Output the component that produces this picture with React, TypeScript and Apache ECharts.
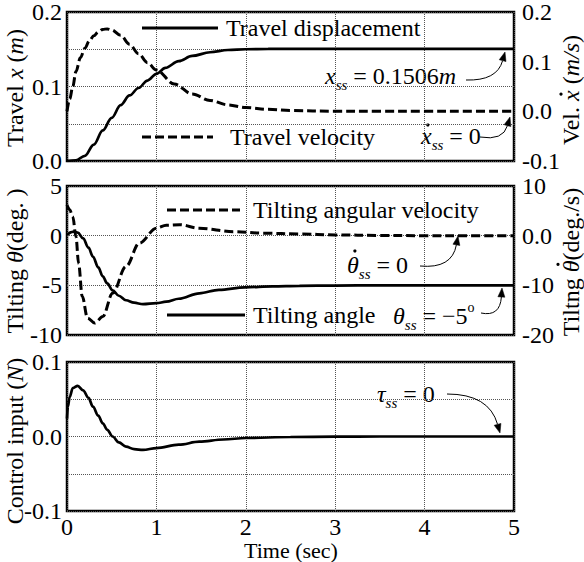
import React, { useEffect, useRef } from "react";
import * as echarts from "echarts";

// ---------- data ----------
const xTicks = [0, 1, 2, 3, 4, 5];

const dispTime = [0, 0.1, 0.2, 0.3, 0.4, 0.5, 0.6, 0.7, 0.8, 0.9, 1.0, 1.1, 1.25, 1.4, 1.6, 1.8, 2.0, 2.25, 2.5, 3, 3.5, 4, 4.5, 5];
const dispValue = [0, 0.001, 0.007, 0.022, 0.041, 0.058, 0.075, 0.088, 0.098, 0.108, 0.117, 0.125, 0.134, 0.141, 0.146, 0.149, 0.150, 0.1504, 0.1506, 0.1506, 0.1506, 0.1506, 0.1506, 0.1506];

const velTime = [0, 0.03, 0.065, 0.1, 0.15, 0.2, 0.25, 0.3, 0.35, 0.4, 0.45, 0.5, 0.6, 0.7, 0.8, 0.9, 1.0, 1.2, 1.4, 1.6, 1.8, 2.0, 2.25, 2.5, 3, 3.5, 4, 4.5, 5];
const velValue = [0, 0.025, 0.05, 0.08, 0.108, 0.127, 0.142, 0.152, 0.16, 0.165, 0.166, 0.164, 0.153, 0.135, 0.116, 0.098, 0.083, 0.055, 0.035, 0.022, 0.013, 0.0075, 0.004, 0.0015, 0.0003, 0, 0, 0, 0];

const thetaTime = [0, 0.05, 0.085, 0.12, 0.18, 0.24, 0.29, 0.35, 0.4, 0.45, 0.51, 0.58, 0.66, 0.75, 0.85, 1.0, 1.11, 1.25, 1.48, 1.7, 1.99, 2.3, 2.6, 3, 3.5, 4, 4.5, 5];
const thetaValue = [0.05, 0.35, 0.42, 0.3, -0.27, -1.2, -2.1, -3.2, -4.1, -4.8, -5.5, -6.05, -6.5, -6.75, -6.9, -6.8, -6.65, -6.35, -5.8, -5.45, -5.2, -5.1, -5.05, -5.02, -5.0, -5.0, -5.0, -5.0];

const omegaTime = [0, 0.03, 0.065, 0.1, 0.13, 0.17, 0.23, 0.31, 0.4, 0.51, 0.66, 0.81, 1.0, 1.11, 1.26, 1.48, 1.86, 2.2, 2.6, 3.0, 3.5, 4, 4.5, 5];
const omegaValue = [6.2, 5.2, 3.8, -0.2, -5.6, -12.2, -16.6, -17.6, -16.3, -11.6, -6.2, -1.5, 1.5, 2.1, 2.2, 1.5, 0.8, 0.5, 0.34, 0.15, 0.05, 0, 0, 0];

const ctrlTime = [0, 0.01, 0.03, 0.065, 0.12, 0.18, 0.24, 0.29, 0.35, 0.4, 0.45, 0.51, 0.58, 0.66, 0.75, 0.85, 1.0, 1.25, 1.48, 1.75, 2.0, 2.5, 3, 3.5, 4, 4.5, 5];
const ctrlValue = [0.024, 0.04, 0.053, 0.065, 0.068, 0.062, 0.052, 0.04, 0.028, 0.0177, 0.009, 0, -0.008, -0.0136, -0.017, -0.018, -0.0155, -0.011, -0.007, -0.004, -0.002, -0.0007, -0.0002, 0, 0, 0, 0];

const travelLeftTicks = [0.0, 0.1, 0.2];
const travelRightTicks = [-0.1, 0.0, 0.1, 0.2];
const tiltLeftTicks = [-10, -5, 0, 5];
const tiltRightTicks = [-20, -10, 0, 10];
const ctrlTicks = [-0.1, 0.0, 0.1];

// ---------- helpers ----------
const FONT = "Liberation Serif";
const FS = 24;
const pairs = (t: number[], v: number[]) => t.map((x, i) => [x, v[i]]);
const near = (v: number, arr: number[]) => arr.some((a) => Math.abs(a - v) < 1e-6);

type Part = { t?: string; size?: number; italic?: boolean; dy?: number; dx?: number; dot?: boolean };

let measureCtx: CanvasRenderingContext2D | null = null;
function measure(s: string, size: number, italic: boolean) {
  if (!measureCtx) measureCtx = document.createElement("canvas").getContext("2d");
  if (!measureCtx) return s.length * size * 0.5;
  measureCtx.font = `${italic ? "italic " : ""}${size}px "${FONT}"`;
  return measureCtx.measureText(s).width;
}

function compose(parts: Part[], x: number, y: number, center: boolean, rotate: boolean, baseSize = FS) {
  const items: any[] = [];
  let cur = 0;
  let prevStart = 0;
  let prevW = 0;
  for (const p of parts) {
    const size = p.size || baseSize;
    if (p.dot) {
      items.push({
        type: "circle",
        kx: prevStart + prevW / 2 + (p.dx || 0),
        shape: { cx: 0, cy: p.dy || 0, r: 1.6 },
        style: { fill: "#000" },
      });
      continue;
    }
    const t = p.t || "";
    const w = measure(t, size, !!p.italic);
    items.push({
      type: "text",
      kx: cur + (p.dx || 0),
      y: p.dy || 0,
      style: {
        text: t,
        fill: "#000",
        fontSize: size,
        fontFamily: FONT,
        fontStyle: p.italic ? "italic" : "normal",
        textAlign: "left",
        align: "left",
        textVerticalAlign: "middle",
        verticalAlign: "middle",
      },
    });
    prevStart = cur + (p.dx || 0);
    prevW = w;
    cur += w + (p.dx || 0);
  }
  const off = center ? -cur / 2 : 0;
  const children = items.map((it) => {
    const { kx, ...rest } = it;
    if (rest.type === "circle") {
      return { ...rest, shape: { ...rest.shape, cx: kx + off } };
    }
    return { ...rest, x: kx + off };
  });
  return { type: "group", x, y, rotation: rotate ? Math.PI / 2 : 0, z: 10, children };
}

function txt(x: number, y: number, s: string, size = FS, align = "left") {
  return {
    type: "text",
    x,
    y,
    z: 10,
    style: {
      text: s,
      fill: "#000",
      fontSize: size,
      fontFamily: FONT,
      textAlign: align,
      align,
      textVerticalAlign: "middle",
      verticalAlign: "middle",
    },
  };
}

function arrow(x1: number, y1: number, cx: number, cy: number, x2: number, y2: number) {
  const dx = x2 - cx;
  const dy = y2 - cy;
  const len = Math.sqrt(dx * dx + dy * dy) || 1;
  const ux = dx / len;
  const uy = dy / len;
  const L = 9;
  const W = 3.5;
  const bx = x2 - ux * L;
  const by = y2 - uy * L;
  return [
    {
      type: "bezierCurve",
      z: 10,
      shape: { x1, y1, x2: bx, y2: by, cpx1: cx, cpy1: cy },
      style: { stroke: "#000", lineWidth: 1, fill: null },
    },
    {
      type: "polygon",
      z: 10,
      shape: {
        points: [
          [x2, y2],
          [bx - uy * W, by + ux * W],
          [bx + uy * W, by - ux * W],
        ],
      },
      style: { fill: "#000", stroke: "#000", lineWidth: 0.5 },
    },
  ];
}

function legendLine(x1: number, x2: number, y: number, dashed: boolean) {
  return {
    type: "line",
    z: 10,
    shape: { x1, y1: y, x2, y2: y },
    style: { stroke: "#000", lineWidth: 2.8, lineDash: dashed ? [9, 4] : null },
  };
}

const grid = (top: number) => ({
  left: 67,
  right: 70,
  top,
  height: 149,
  show: true,
  borderColor: "#000",
  borderWidth: 2.5,
  backgroundColor: "transparent",
  containLabel: false,
  outerBoundsMode: "none",
});

const splitStyle = { show: true, lineStyle: { color: "#555", type: [1, 1], width: 1 } };

const xAxis = (gridIndex: number, showLabels: boolean) => ({
  type: "value",
  gridIndex,
  min: xTicks[0],
  max: xTicks[xTicks.length - 1],
  interval: 1,
  axisLine: { show: false },
  axisTick: { show: false },
  splitLine: splitStyle,
  axisLabel: {
    show: showLabels,
    color: "#000",
    fontSize: FS,
    fontFamily: FONT,
    margin: 4,
  },
});

export default function App() {
  const ref = useRef<HTMLDivElement>(null);

  useEffect(() => {
    if (!ref.current) return;
    const chart = echarts.init(ref.current, undefined, { renderer: "svg" });

    const lineSeries = (
      name: string,
      t: number[],
      v: number[],
      xi: number,
      yi: number,
      dashed: boolean
    ) => ({
      name,
      type: "line",
      xAxisIndex: xi,
      yAxisIndex: yi,
      data: pairs(t, v),
      showSymbol: false,
      symbol: "none",
      smooth: 0.35,
      smoothMonotone: "x",
      lineStyle: { color: "#000", width: dashed ? 3 : 2.7, type: dashed ? [9, 4] : "solid" },
      z: 5,
    });

    const yAxis = (gridIndex: number, position: string, min: number, max: number, interval: number, split: boolean, formatter: (v: number) => string) => ({
      type: "value",
      gridIndex,
      position,
      min,
      max,
      interval,
      axisLine: { show: false },
      axisTick: { show: false },
      splitLine: split ? splitStyle : { show: false },
      axisLabel: {
        color: "#000",
        fontSize: FS,
        fontFamily: FONT,
        margin: position === "left" ? 5 : 8,
        formatter,
      },
    });

    const option: any = {
      animation: false,
      backgroundColor: "#fff",
      textStyle: { fontFamily: FONT },
      grid: [grid(12), grid(186), grid(362)],
      xAxis: [xAxis(0, false), xAxis(1, false), xAxis(2, true)],
      yAxis: [
        yAxis(0, "left", 0, 0.2, 0.05, true, (v) => (near(v, travelLeftTicks) ? v.toFixed(1) : "")),
        yAxis(0, "right", -0.1, 0.2, 0.1, false, (v) => (near(v, travelRightTicks) ? v.toFixed(1) : "")),
        yAxis(1, "left", -10, 5, 5, true, (v) => (near(v, tiltLeftTicks) ? String(Math.round(v)) : "")),
        yAxis(1, "right", -20, 10, 10, false, (v) =>
          near(v, tiltRightTicks) ? (Math.abs(v) < 1e-9 ? "0.0" : String(Math.round(v))) : ""
        ),
        yAxis(2, "left", -0.1, 0.1, 0.05, true, (v) => (near(v, ctrlTicks) ? v.toFixed(1) : "")),
      ],
      series: [
        lineSeries("Travel displacement", dispTime, dispValue, 0, 0, false),
        lineSeries("Travel velocity", velTime, velValue, 0, 1, true),
        lineSeries("Tilting angle", thetaTime, thetaValue, 1, 2, false),
        lineSeries("Tilting angular velocity", omegaTime, omegaValue, 1, 3, true),
        lineSeries("Control input", ctrlTime, ctrlValue, 2, 4, false),
      ],
      graphic: [
        // axis names
        compose([{ t: "Travel " }, { t: "x", italic: true }, { t: " (" }, { t: "m", italic: true }, { t: ")" }], 15, 88, true, true),
        compose([{ t: "Vel. " }, { t: "x", italic: true }, { dot: true, dx: 1.5, dy: -10 }, { t: " (" }, { t: "m/s", italic: true }, { t: ")" }], 571, 90, true, true),
        compose([{ t: "Tilting " }, { t: "\u03B8", italic: true }, { t: "(deg. )" }], 15, 261, true, true),
        compose([{ t: "Tiltng " }, { t: "\u03B8", italic: true }, { dot: true, dx: 2, dy: -13 }, { t: "(deg./s)" }], 571, 262, true, true),
        compose([{ t: "Control input (" }, { t: "N", italic: true }, { t: ")" }], 15, 441, true, true),
        txt(291, 550, "Time (sec)", 22, "center"),
        // top legends
        legendLine(142, 218, 28, false),
        txt(226, 28, "Travel displacement"),
        legendLine(142, 213, 137, true),
        txt(230, 137, "Travel velocity"),
        // x_ss annotation
        compose([{ t: "x", italic: true }, { t: "ss", italic: true, size: 15, dy: 9 }, { t: " = 0.1506" }, { t: "m", italic: true }], 325, 76, false, false),
        ...arrow(466, 80, 497, 81, 505, 52),
        // xdot_ss annotation
        compose([{ t: "x", italic: true }, { dot: true, dx: 1.5, dy: -11 }, { t: "ss", italic: true, size: 15, dy: 9 }, { t: " = 0" }], 421, 136, false, false),
        ...arrow(480, 137, 503, 141, 510, 117),
        // middle legends
        legendLine(167, 240, 210, true),
        txt(253, 210, "Tilting angular velocity"),
        legendLine(167, 245, 315, false),
        txt(253, 315, "Tilting angle"),
        // thetadot_ss
        compose([{ t: "\u03B8", italic: true }, { dot: true, dx: 2, dy: -14 }, { t: "ss", italic: true, size: 15, dy: 9 }, { t: " = 0" }], 347, 265, false, false),
        ...arrow(420, 266, 452, 269, 458, 236),
        // theta_ss
        compose([{ t: "\u03B8", italic: true }, { t: "ss", italic: true, size: 15, dy: 9 }, { t: " = \u22125" }, { t: "o", size: 14, dy: -9 }], 393, 316, false, false),
        ...arrow(481, 313, 500, 317, 502, 288),
        // tau_ss
        compose([{ t: "\u03C4", italic: true }, { t: "ss", italic: true, size: 15, dy: 9 }, { t: " = 0" }], 377, 394, false, false),
        ...arrow(447, 394, 489, 394, 500, 433),
      ],
    };

    chart.setOption(option);
    return () => chart.dispose();
  }, []);

  return (
    <div
      ref={ref}
      style={{ position: "absolute", left: 0, top: 0, width: 584, height: 562, background: "#fff" }}
    />
  );
}
